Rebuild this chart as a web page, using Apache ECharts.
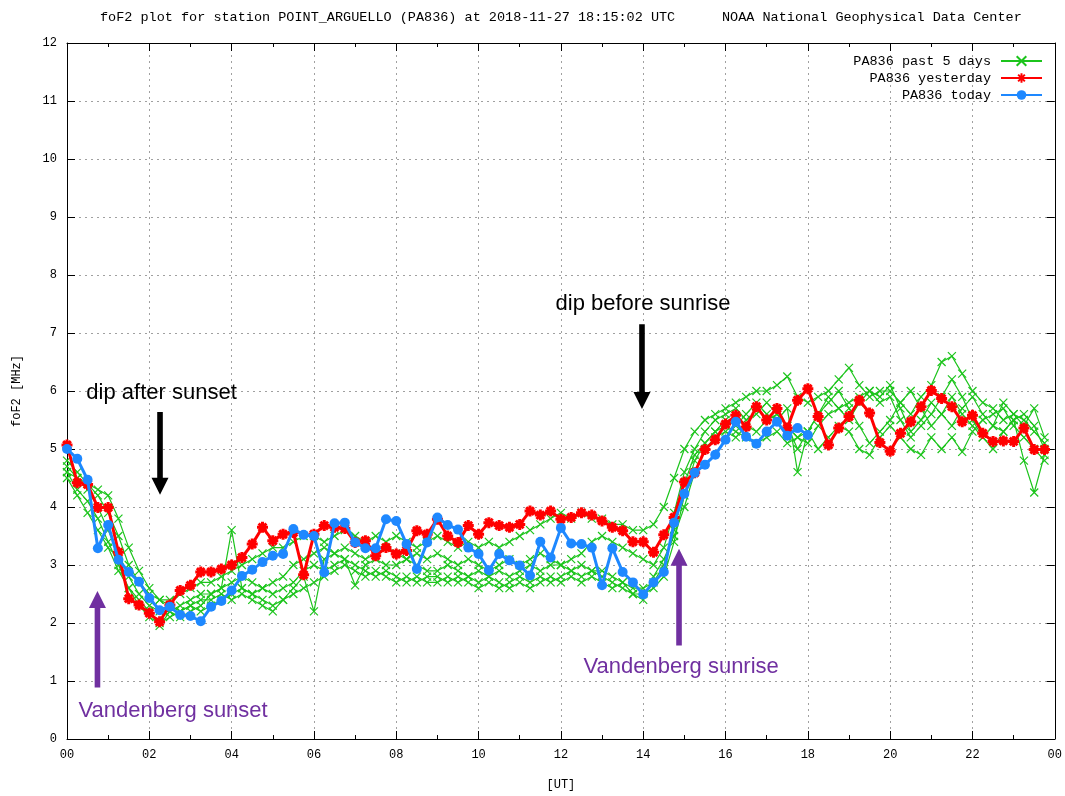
<!DOCTYPE html>
<html>
<head>
<meta charset="utf-8">
<script src="https://cdn.jsdelivr.net/npm/echarts@6/dist/echarts.min.js"></script>
<style>html,body{margin:0;padding:0;background:#fff}#chart{width:1065px;height:796px}</style>
</head>
<body>
<div id="chart"></div>
<script>
// ---------------- data ----------------
const SAMPLE_STEP_HOURS = 0.25; // 15-minute soundings
const xTickLabels = ['00','02','04','06','08','10','12','14','16','18','20','22','00'];

const todayValues = [
  5.00,4.83,4.47,3.29, 3.69,3.09,2.88,2.71, 2.43,2.22,2.28,2.14, 2.12,2.03,2.28,2.38,
  2.56,2.81,2.92,3.05, 3.16,3.19,3.62,3.52, 3.50,2.87,3.72,3.73, 3.39,3.29,3.29,3.79,
  3.76,3.36,2.93,3.39, 3.82,3.69,3.61,3.30, 3.19,2.91,3.19,3.08, 2.99,2.82,3.40,3.13,
  3.64,3.37,3.36,3.30, 2.65,3.29,2.88,2.70, 2.49,2.70,2.88,3.73, 4.23,4.59,4.73,4.90,
  5.16,5.47,5.21,5.09, 5.30,5.47,5.23,5.36, 5.24
];

const yesterdayValues = [
  5.07,4.42,4.39,3.99, 3.99,3.22,2.42,2.31, 2.17,2.02,2.31,2.56, 2.65,2.88,2.88,2.93,
  3.00,3.13,3.36,3.65, 3.42,3.53,3.56,2.83, 3.53,3.68,3.65,3.63, 3.39,3.42,3.16,3.30,
  3.19,3.25,3.59,3.53, 3.79,3.50,3.39,3.68, 3.53,3.73,3.68,3.65, 3.70,3.93,3.86,3.93,
  3.79,3.82,3.90,3.86, 3.76,3.65,3.59,3.40, 3.40,3.22,3.52,3.82, 4.43,4.59,4.99,5.16,
  5.43,5.58,5.38,5.73, 5.50,5.70,5.36,5.84, 6.04,5.56,5.07,5.36, 5.56,5.84,5.62,5.11,
  4.96,5.27,5.47,5.73, 6.01,5.87,5.73,5.47, 5.58,5.27,5.13,5.14, 5.13,5.36,4.99,4.99
];

const pastDay1 = [
  4.8,4.6,4.4,4.2, 3.9,3.5,3.0,2.7, 2.5,2.4,2.4,2.5, 2.6,2.7,2.7,2.8, 2.9,3.0,3.1,3.2,
  3.3,3.3,3.4,3.5, 3.5,3.4,3.5,3.6, 3.5,3.4,3.5,3.4, 3.5,3.4,3.3,3.4, 3.5,3.4,3.3,3.4,
  3.3,3.4,3.3,3.4, 3.5,3.6,3.7,3.8, 3.9,3.8,3.9,3.8, 3.8,3.7,3.7,3.6, 3.6,3.7,4.0,4.5,
  5.0,5.3,5.5,5.6, 5.7,5.8,5.9,6.0, 6.0,6.1,6.25,5.9, 5.8,5.9,6.0,6.2, 6.4,6.1,5.9,6.0,
  6.0,5.8,5.6,5.9, 6.1,6.5,6.6,6.3, 6.0,5.8,5.7,5.5, 5.6,5.5,5.3,5.1
];
const pastDay2 = [
  4.6,4.5,4.3,4.0, 3.6,3.2,2.8,2.5, 2.3,2.2,2.2,2.3, 2.4,2.5,2.5,2.6, 3.6,2.6,2.5,2.6,
  2.7,2.8,3.0,3.1, 3.2,3.3,3.2,3.3, 3.2,3.1,3.2,3.3, 3.2,3.1,3.2,3.1, 3.2,3.1,3.0,3.1,
  3.0,2.9,3.0,3.1, 3.0,3.1,3.2,3.1, 3.0,3.1,3.2,3.4, 3.5,3.4,3.3,3.2, 3.1,3.0,3.3,3.9,
  4.6,5.0,5.3,5.5, 5.6,5.7,5.5,5.6, 5.8,5.6,5.4,5.0, 5.3,5.6,5.9,5.7, 5.5,5.8,6.0,5.9,
  6.1,5.7,5.3,5.5, 5.8,5.6,5.4,5.7, 5.9,5.6,5.4,5.3, 5.5,4.8,4.25,4.9
];
const pastDay3 = [
  4.5,4.2,3.9,3.6, 3.3,2.9,2.6,2.3, 2.1,2.0,2.1,2.2, 2.3,2.4,2.4,2.5, 2.4,2.5,2.4,2.3,
  2.2,2.4,2.5,2.6, 2.7,2.8,2.9,3.0, 2.9,2.8,2.9,2.8, 2.7,2.8,2.7,2.8, 2.8,2.7,2.8,2.7,
  2.6,2.7,2.6,2.7, 2.8,2.7,2.8,2.7, 2.8,2.9,2.8,2.9, 2.8,2.7,2.6,2.5, 2.5,2.6,2.8,3.4,
  4.2,4.8,5.1,5.3, 5.4,5.3,5.2,5.1, 5.2,5.3,5.1,5.2, 5.3,5.0,5.2,5.4, 5.3,5.0,4.9,5.2,
  5.4,5.2,5.0,4.9, 5.2,5.0,5.2,4.95, 5.3,5.5,5.6,5.7, 5.4,5.2,5.0,4.8
];
const pastDay4 = [
  4.7,4.5,4.4,4.3, 4.2,3.8,3.3,2.9, 2.6,2.4,2.3,2.2, 2.3,2.2,2.3,2.4, 2.5,2.6,2.5,2.4,
  2.3,2.4,2.6,2.8, 2.2,3.1,3.2,3.1, 2.65,3.0,3.1,3.0, 3.0,3.1,3.0,2.9, 2.9,3.0,2.9,2.8,
  2.9,2.8,2.9,2.8, 2.9,3.0,2.9,3.0, 3.0,2.9,3.0,2.9, 2.9,2.8,2.7,2.6, 2.6,2.7,3.0,3.6,
  4.4,4.9,5.1,5.3, 5.5,5.4,5.6,5.8, 5.6,5.5,5.7,4.6, 5.3,5.6,5.8,6.0, 5.7,5.4,5.1,5.3,
  5.5,5.8,6.0,5.7, 5.4,5.6,5.9,5.6, 5.4,5.2,5.4,5.8, 5.6,5.4,5.7,5.2
];
const pastDay5 = [
  4.6,4.3,4.1,3.8, 3.4,3.0,2.6,2.4, 2.2,1.95,2.2,2.1, 2.2,2.3,2.5,2.6, 2.7,2.8,2.7,2.6,
  2.5,2.6,2.7,2.9, 3.0,2.9,3.0,3.1, 3.0,2.9,2.8,2.9, 2.8,2.7,2.8,2.7, 2.7,2.8,2.7,2.8,
  2.7,2.8,2.7,2.6, 2.7,2.6,2.7,2.8, 2.7,2.8,2.7,2.8, 2.7,2.6,2.7,2.5, 2.4,2.8,3.1,3.5,
  4.0,4.6,5.0,5.2, 5.3,5.2,5.4,5.3, 5.5,5.6,5.4,5.2, 5.1,5.4,5.6,5.7, 5.8,5.9,6.0,5.8,
  5.9,5.5,5.2,5.4, 5.6,5.9,6.2,5.9, 5.5,5.2,5.0,5.3, 5.5,5.6,5.4,5.0
];
const pastDays = [pastDay1, pastDay2, pastDay3, pastDay4, pastDay5];

const NAME_PAST = 'PA836 past 5 days';
const NAME_YEST = 'PA836 yesterday';
const NAME_TODAY = 'PA836 today';

// ---------------- styling ----------------
const GREEN = '#1cc41c', RED = '#ff0000', BLUE = '#1e88ff', PURPLE = '#7030a0';
const MONO = '"Liberation Mono", "DejaVu Sans Mono", monospace';
const SANS = '"Liberation Sans", Arial, sans-serif';

function toPairs(values) { return values.map((v, i) => [i * SAMPLE_STEP_HOURS, v]); }

const series = [];
pastDays.forEach(day => series.push({
  type: 'line', name: NAME_PAST, data: toPairs(day), z: 2,
  symbol: 'path://M0 0L10 10M10 0L0 10', symbolSize: 8, showAllSymbol: true,
  lineStyle: { color: GREEN, width: 1.2 },
  itemStyle: { color: 'rgba(0,0,0,0)', borderColor: GREEN, borderWidth: 1.2 }
}));
series.push({
  type: 'line', name: NAME_YEST, data: toPairs(yesterdayValues), z: 3,
  symbol: 'path://M5 0L5 10M0 5L10 5M1.5 1.5L8.5 8.5M8.5 1.5L1.5 8.5', symbolSize: 11, showAllSymbol: true,
  lineStyle: { color: RED, width: 3 },
  itemStyle: { color: RED, borderColor: RED, borderWidth: 3 }
});
series.push({
  type: 'line', name: NAME_TODAY, data: toPairs(todayValues), z: 4,
  symbol: 'circle', symbolSize: 10, showAllSymbol: true,
  lineStyle: { color: BLUE, width: 3 },
  itemStyle: { color: BLUE }
});

const axisLineStyle = { show: true, onZero: false, lineStyle: { color: '#000', width: 1 } };
const gridLine = { show: true, lineStyle: { color: '#a0a0a0', width: 1, type: [2, 4] } };
const legendBase = {
  orient: 'horizontal', align: 'right', right: 22, itemWidth: 41, itemHeight: 12,
  textStyle: { fontFamily: MONO, fontSize: 13.5, color: '#000', padding: [0, 5, 0, 0] },
  selectedMode: false, padding: 0
};

const chart = echarts.init(document.getElementById('chart'), null, { renderer: 'canvas' });
chart.setOption({
  animation: false,
  backgroundColor: '#fff',
  title: [
    { text: 'foF2 plot for station POINT_ARGUELLO (PA836) at 2018-11-27 18:15:02 UTC', left: 95, top: 5,
      textStyle: { fontFamily: MONO, fontSize: 13.5, fontWeight: 'normal', color: '#000' } },
    { text: 'NOAA National Geophysical Data Center', left: 717, top: 5,
      textStyle: { fontFamily: MONO, fontSize: 13.5, fontWeight: 'normal', color: '#000' } }
  ],
  legend: [
    Object.assign({}, legendBase, { data: [NAME_PAST], top: 54 }),
    Object.assign({}, legendBase, { data: [NAME_YEST], top: 71 }),
    Object.assign({}, legendBase, { data: [NAME_TODAY], top: 88 })
  ],
  grid: { left: 67, right: 8, top: 43, bottom: 51, containLabel: false },
  xAxis: [
    { type: 'value', min: 0, max: 24, interval: 2, position: 'bottom',
      name: '[UT]', nameLocation: 'middle', nameGap: 40,
      nameTextStyle: { fontFamily: MONO, fontSize: 12, color: '#000' },
      axisLine: axisLineStyle,
      axisTick: { show: true, inside: true, length: 8, lineStyle: { color: '#000' } },
      minorTick: { show: true, splitNumber: 2, length: 4, lineStyle: { color: '#000' } },
      axisLabel: { fontFamily: MONO, fontSize: 12, color: '#000', margin: 10,
        formatter: v => xTickLabels[Math.round(v / 2)] },
      splitLine: gridLine },
    { type: 'value', min: 0, max: 24, interval: 2, position: 'top',
      axisLine: axisLineStyle,
      axisTick: { show: true, inside: true, length: 8, lineStyle: { color: '#000' } },
      minorTick: { show: true, splitNumber: 2, length: 4, lineStyle: { color: '#000' } },
      axisLabel: { show: false }, splitLine: { show: false } }
  ],
  yAxis: [
    { type: 'value', min: 0, max: 12, interval: 1, position: 'left',
      name: 'foF2 [MHz]', nameLocation: 'middle', nameGap: 44, nameRotate: 90,
      nameTextStyle: { fontFamily: MONO, fontSize: 12, color: '#000' },
      axisLine: axisLineStyle,
      axisTick: { show: true, inside: true, length: 8, lineStyle: { color: '#000' } },
      axisLabel: { fontFamily: MONO, fontSize: 12, color: '#000', margin: 10 },
      splitLine: gridLine },
    { type: 'value', min: 0, max: 12, interval: 1, position: 'right',
      axisLine: axisLineStyle,
      axisTick: { show: true, inside: true, length: 8, lineStyle: { color: '#000' } },
      axisLabel: { show: false }, splitLine: { show: false } }
  ],
  series: series
});

// ---------------- annotations (anchored in data coordinates) ----------------
const annotationTexts = [
  { text: 'dip after sunset',   at: [0.47, 5.97],  color: '#000' },
  { text: 'dip before sunrise', at: [11.87, 7.50], color: '#000' },
  { text: 'Vandenberg sunset',  at: [0.28, 0.48],  color: PURPLE },
  { text: 'Vandenberg sunrise', at: [12.55, 1.25], color: PURPLE }
];
const annotationArrows = [
  { x: 2.26,  from: 5.64, tip: 4.21, color: '#000' },
  { x: 13.97, from: 7.15, tip: 5.69, color: '#000' },
  { x: 0.74,  from: 0.89, tip: 2.55, color: PURPLE },
  { x: 14.87, from: 1.61, tip: 3.28, color: PURPLE }
];
const toPx = p => chart.convertToPixel({ xAxisIndex: 0, yAxisIndex: 0 }, p);
const graphics = [];
annotationTexts.forEach(a => {
  const [px, py] = toPx(a.at);
  graphics.push({ type: 'text', x: px, y: py, z: 100,
    style: { text: a.text, fill: a.color, font: '22px ' + SANS, textVerticalAlign: 'middle', textAlign: 'left' } });
});
annotationArrows.forEach(a => {
  const [x, y0] = toPx([a.x, a.from]);
  const [, y1] = toPx([a.x, a.tip]);
  const dir = y1 > y0 ? 1 : -1;
  const headLen = 17, headHalf = 8.5, shaftHalf = 2.8;
  const yb = y1 - dir * headLen;
  graphics.push({ type: 'polygon', z: 100,
    shape: { points: [[x - shaftHalf, y0], [x + shaftHalf, y0], [x + shaftHalf, yb], [x + headHalf, yb],
                      [x, y1], [x - headHalf, yb], [x - shaftHalf, yb]] },
    style: { fill: a.color } });
});
chart.setOption({ graphic: graphics });
</script>
</body>
</html>
